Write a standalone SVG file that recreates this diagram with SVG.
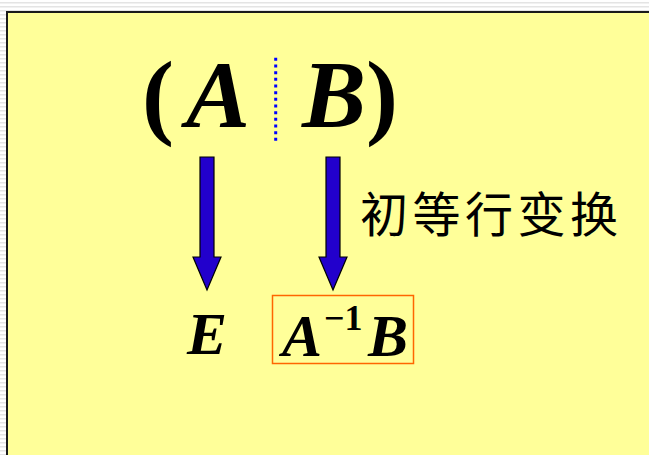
<svg xmlns="http://www.w3.org/2000/svg" width="649" height="455" viewBox="0 0 649 455">
  <defs>
    <pattern id="stripes" width="8" height="4" patternUnits="userSpaceOnUse">
      <rect width="8" height="4" fill="#ffffff"/>
      <rect y="2" width="8" height="1.5" fill="#e4e4e4"/>
    </pattern>
    <style>
      .math { font-family: "Liberation Serif", "Times New Roman", serif; font-weight: bold; fill: #000; }
      .it { font-style: italic; }
      .arrow { fill: #2200cc; stroke: #000; stroke-width: 1.2; stroke-linejoin: miter; }
      .cjk { font-family: "Noto Sans CJK SC", "Noto Sans CJK JP", sans-serif; fill: #000; }
    </style>
  </defs>
  <rect width="649" height="455" fill="url(#stripes)"/>
  <rect x="7" y="12" width="650" height="450" fill="#ffff99" stroke="#1a1a1a" stroke-width="2"/>

  <g id="matrix">
    <text class="math" x="142" y="127" font-size="96">(</text>
    <text class="math it" x="186" y="127" font-size="96">A</text>
    <line x1="275.7" y1="57.8" x2="275.7" y2="141" stroke="#0000ff" stroke-width="3" stroke-dasharray="3 3.67"/>
    <text class="math it" x="302" y="127" font-size="96">B</text>
    <text class="math" x="366" y="127" font-size="96">)</text>
  </g>

  <g id="connectors">
    <polygon class="arrow" points="200,157 214,157 214,257 221,257 207,290 193,257 200,257"/>
    <polygon class="arrow" points="326,157 340,157 340,257 347,257 333,290 319,257 326,257"/>
  </g>

  <g id="label">
    <text class="cjk" x="360" y="232" font-size="48" textLength="258" lengthAdjust="spacing">初等行变换</text>
  </g>

  <g id="identity">
    <text class="math it" x="187" y="354" font-size="60">E</text>
  </g>

  <g id="result">
    <rect x="272.5" y="295.5" width="141" height="68" fill="none" stroke="#ff6600" stroke-width="1.5"/>
    <text class="math it" x="282" y="356" font-size="60">A</text>
    <text class="math" x="324" y="330" font-size="36">−1</text>
    <text class="math it" x="368" y="356" font-size="60">B</text>
  </g>
</svg>
